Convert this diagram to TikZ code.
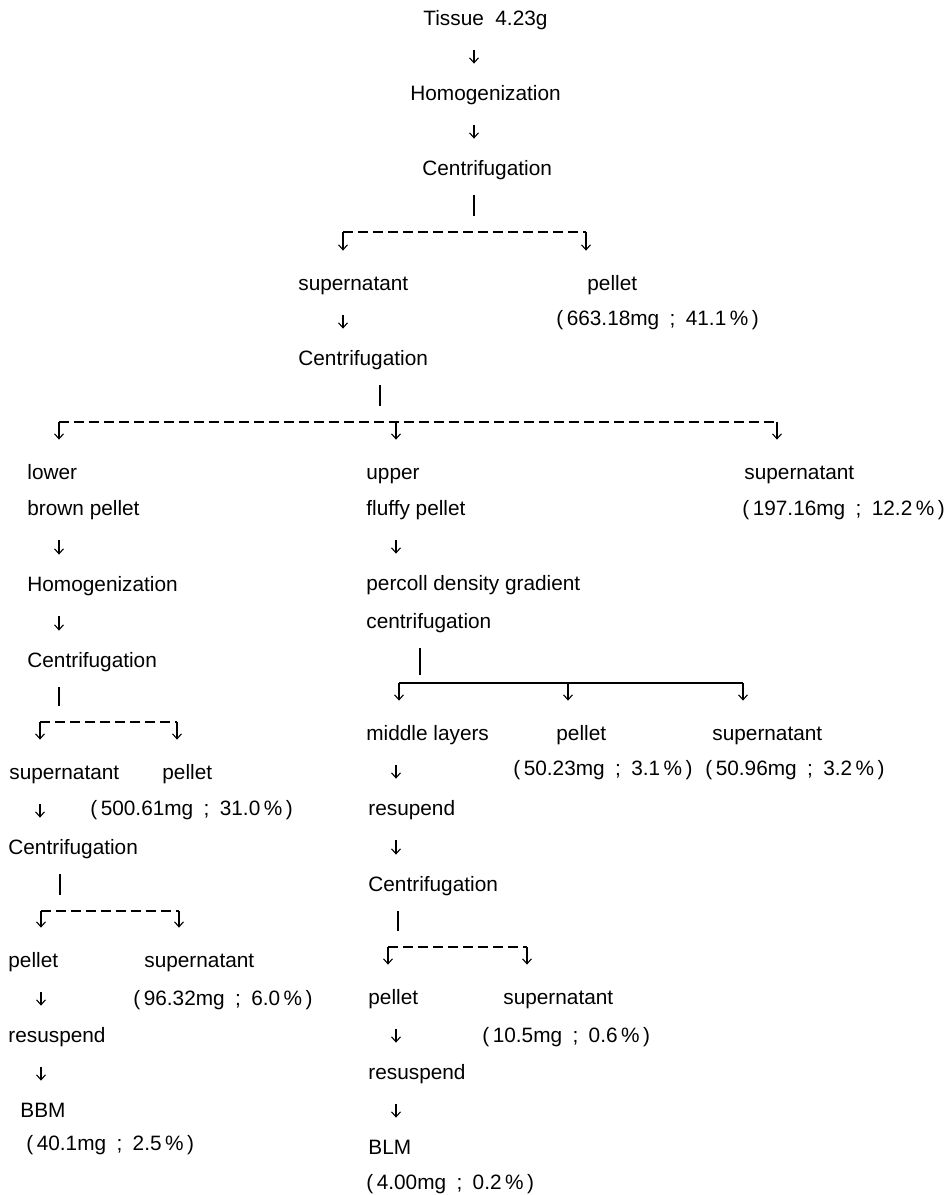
\documentclass[tikz,border=0pt]{standalone}
\usepackage{fontspec}
\setmainfont{Liberation Sans}
\usetikzlibrary{arrows.meta}
\newcommand{\amt}[2]{(\,#1mg\enspace;\enspace#2\,\%\,)}
\tikzset{
  txt/.style={anchor=base west,inner sep=0pt,text height=7.5pt,text depth=2pt,font=\fontsize{10.4}{12}\selectfont},
  arr/.style={-{Straight Barb[length=2.5pt,width=4.5pt]},line width=0.55pt,shorten <=10.5pt,shorten >=10.5pt},
  bar/.style={line width=0.55pt,shorten <=8pt,shorten >=8pt},
  drop/.style={-{Straight Barb[length=2.5pt,width=4.5pt]},line width=0.55pt,shorten >=12pt},
  brl/.style={line width=0.55pt,dash pattern=on 5pt off 2.5pt},
}
\begin{document}
\begin{tikzpicture}[x=0.5pt,y=-0.5pt]
  \useasboundingbox (0,0) rectangle (951,1195);
  % main stem
  \node[txt] (tis) at (423,25) {Tissue\ \ 4.23g};
  \node[txt] (hom1) at (410,100) {Homogenization};
  \node[txt] (cen1) at (422,175) {Centrifugation};
  \coordinate (b1) at (474,232); \coordinate (b1l) at (343,232); \coordinate (b1r) at (586,232);
  \node[txt] (sup1) at (298,290) {supernatant};
  \node[txt] (pel1) at (587,290) {pellet};
  \node[txt] (val1) at (556,325) {\amt{663.18}{41.1}};
  \node[txt] (cen2) at (298,365) {Centrifugation};
  \foreach \a/\b in {tis/hom1,hom1/cen1}{ \draw[arr] (\a.south -| b1) -- (\b.north -| b1); }
  \draw[bar] (cen1.south -| b1) -- (b1);
  \draw[brl] (b1l) -- (b1r);
  \draw[drop] (b1l) -- (sup1.north -| b1l); \draw[drop] (b1r) -- (pel1.north -| b1r);
  \draw[arr] (sup1.south -| b1l) -- (cen2.north -| b1l);

  % second split
  \coordinate (b2) at (380,422); \coordinate (b2l) at (59,422); \coordinate (b2m) at (396,422); \coordinate (b2r) at (777,422);
  \draw[bar] (cen2.south -| b2) -- (b2);
  \draw[brl] (b2l) -- (b2r);

  % left: lower brown pellet
  \node[txt] (low) at (27,479) {lower};
  \node[txt] (brp) at (27,515) {brown pellet};
  \node[txt] (hom2) at (27,591) {Homogenization};
  \node[txt] (cen3) at (27,667) {Centrifugation};
  \coordinate (b3) at (59,722); \coordinate (b3l) at (40,722); \coordinate (b3r) at (177,722);
  \node[txt] (sup3) at (9,779) {supernatant};
  \node[txt] (pel3) at (162,779) {pellet};
  \node[txt] (val3) at (90,815) {\amt{500.61}{31.0}};
  \node[txt] (cen4) at (8,854) {Centrifugation};
  \coordinate (b4) at (60,911); \coordinate (b4l) at (41,911); \coordinate (b4r) at (179,911);
  \node[txt] (pel4) at (8,967) {pellet};
  \node[txt] (sup4) at (144,967) {supernatant};
  \node[txt] (val4) at (133,1005) {\amt{96.32}{6.0}};
  \node[txt] (res1) at (8,1042) {resuspend};
  \node[txt] (bbm) at (20,1117) {BBM};
  \node[txt] (val5) at (26,1150) {\amt{40.1}{2.5}};
  \draw[drop] (b2l) -- (low.north -| b2l);
  \foreach \a/\b in {brp/hom2,hom2/cen3}{ \draw[arr] (\a.south -| b2l) -- (\b.north -| b2l); }
  \draw[bar] (cen3.south -| b3) -- (b3);
  \draw[brl] (b3l) -- (b3r);
  \draw[drop] (b3l) -- (sup3.north -| b3l); \draw[drop] (b3r) -- (pel3.north -| b3r);
  \draw[arr] (sup3.south -| b3l) -- (cen4.north -| b3l);
  \draw[bar] (cen4.south -| b4) -- (b4);
  \draw[brl] (b4l) -- (b4r);
  \draw[drop] (b4l) -- (pel4.north -| b4l); \draw[drop] (b4r) -- (sup4.north -| b4r);
  \foreach \a/\b in {pel4/res1,res1/bbm}{ \draw[arr] (\a.south -| b4l) -- (\b.north -| b4l); }

  % middle: upper fluffy pellet
  \node[txt] (upp) at (366,479) {upper};
  \node[txt] (flp) at (366,515) {fluffy pellet};
  \node[txt] (per) at (366,590) {percoll density gradient};
  \node[txt] (cfg) at (366,628) {centrifugation};
  \coordinate (b5) at (420,683); \coordinate (b5l) at (399,683); \coordinate (b5m) at (568,683); \coordinate (b5r) at (743,683);
  \node[txt] (mid) at (366,740) {middle layers};
  \node[txt] (pel5) at (556,740) {pellet};
  \node[txt] (sup5) at (712,740) {supernatant};
  \node[txt] (val6) at (513,775) {\amt{50.23}{3.1}};
  \node[txt] (val7) at (705,775) {\amt{50.96}{3.2}};
  \node[txt] (rsp) at (368,815) {resupend};
  \node[txt] (cen5) at (368,891) {Centrifugation};
  \coordinate (b6) at (398,947); \coordinate (b6l) at (388,947); \coordinate (b6r) at (527,947);
  \node[txt] (pel6) at (368,1004) {pellet};
  \node[txt] (sup6) at (503,1004) {supernatant};
  \node[txt] (val8) at (482,1042) {\amt{10.5}{0.6}};
  \node[txt] (res2) at (368,1079) {resuspend};
  \node[txt] (blm) at (368,1154) {BLM};
  \node[txt] (val9) at (366,1189) {\amt{4.00}{0.2}};
  \draw[drop] (b2m) -- (upp.north -| b2m);
  \draw[arr] (flp.south -| b2m) -- (per.north -| b2m);
  \draw[bar,shorten >=4pt] (cfg.south -| b5) -- (b5);
  \draw[line width=0.55pt] (b5l) -- (b5r);
  \foreach \c/\n in {b5l/mid,b5m/pel5,b5r/sup5}{ \draw[drop] (\c) -- (\n.north -| \c); }
  \foreach \a/\b in {mid/rsp,rsp/cen5}{ \draw[arr] (\a.south -| b2m) -- (\b.north -| b2m); }
  \draw[bar] (cen5.south -| b6) -- (b6);
  \draw[brl] (b6l) -- (b6r);
  \draw[drop] (b6l) -- (pel6.north -| b6l); \draw[drop] (b6r) -- (sup6.north -| b6r);
  \foreach \a/\b in {pel6/res2,res2/blm}{ \draw[arr] (\a.south -| b2m) -- (\b.north -| b2m); }

  % right: supernatant
  \node[txt] (sup2) at (744,479) {supernatant};
  \node[txt] (val2) at (742,515) {\amt{197.16}{12.2}};
  \draw[drop] (b2r) -- (sup2.north -| b2r);
\end{tikzpicture}
\end{document}
